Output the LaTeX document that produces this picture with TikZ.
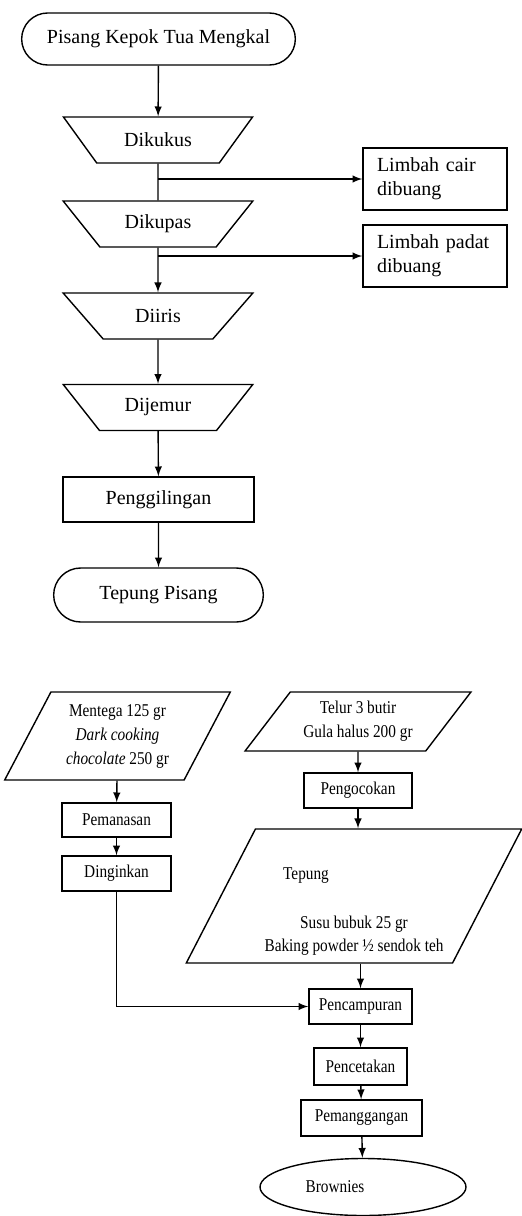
\documentclass[tikz,border=0pt]{standalone}
\usepackage{fontspec}
\setmainfont{Liberation Serif}
\newfontfamily\narrowserif[FakeStretch=0.85]{Liberation Serif}
\usepackage{tikz}
\usetikzlibrary{shapes.geometric, shapes.misc}

\begin{document}
\begin{tikzpicture}[x=0.5pt, y=-0.5pt, >=latex, line width=0.7pt,
    bigfont/.style={font=\fontsize{10}{12}\selectfont},
    smallfont/.style={font=\narrowserif\fontsize{9}{12}\selectfont},
    term/.style={draw, rounded rectangle, bigfont, minimum height=26pt},
    proc/.style={draw, trapezium, trapezium angle=51.2, trapezium stretches,
      shape border rotate=180, minimum width=95pt, minimum height=23pt, bigfont},
    waste/.style={draw, rectangle, bigfont, align=left, text width=58pt,
      inner xsep=7pt, minimum height=31pt},
    input/.style={draw, trapezium, trapezium stretches, smallfont, align=center},
    smallbox/.style={draw, rectangle, smallfont, minimum height=17.5pt}]
    \useasboundingbox (0,0) rectangle (522,1216);

    % tepung pisang
    \node [term, minimum width=143.5pt] (pisang) at (158.5,39) {Pisang Kepok Tua Mengkal};
    \node [proc] (kukus) at (158,140) {Dikukus};
    \node [proc] (kupas) at (158,224) {Dikupas};
    \node [proc] (iris) at (158,316) {Diiris};
    \node [proc] (jemur) at (158,407.5) {Dijemur};
    \node [draw, bigfont, minimum width=95.5pt, minimum height=22.5pt] (giling) at (158.5,499.5) {Penggilingan};
    \node [term, minimum width=111.5pt, minimum height=27pt] (tepung) at (158.5,595) {Tepung Pisang};
    \node [waste] (cair) at (435,179) {Limbah cair\\dibuang};
    \node [waste] (padat) at (435,256) {Limbah padat\\dibuang};

    \draw[->] (pisang) -- (kukus);
    \draw (kukus) -- (kupas);
    \draw[->] (kukus.south |- cair) -- (cair);
    \draw[->] (kupas) -- (iris);
    \draw[->] (kupas.south |- padat) -- (padat);
    \draw[->] (iris) -- (jemur);
    \draw[->] (jemur) -- (giling);
    \draw[->] (giling) -- (tepung);

    % brownies
    \node [input, trapezium left angle=62.4, trapezium right angle=117.6,
      minimum width=113.5pt, minimum height=44pt] (mentega) at (117.5,736)
      {Mentega 125 gr\\ \textit{Dark cooking}\\ \textit{chocolate} 250 gr};
    \node [input, trapezium left angle=52.7, trapezium right angle=127.3,
      minimum width=113pt, minimum height=29.5pt] (telur) at (358,721.5)
      {Telur 3 butir\\ Gula halus 200 gr};
    \node [smallbox, minimum width=54.5pt, minimum height=17pt] (panas) at (116.5,820) {Pemanasan};
    \node [smallbox, minimum width=54.5pt] (dingin) at (116.5,873.5) {Dinginkan};
    \node [smallbox, minimum width=54pt] (kocok) at (358,790.5) {Pengocokan};
    \node [input, trapezium left angle=62.8, trapezium right angle=117.2,
      minimum width=168pt, minimum height=67pt, font=\narrowserif\fontsize{9}{11.5}\selectfont]
      (bahan) at (354,896)
      {\rule{0pt}{21pt}Tepung\hspace*{48pt}\\[13pt] Susu bubuk 25 gr\\ Baking powder ½ sendok teh};
    \node [smallbox, minimum width=51.5pt] (campur) at (360.5,1006.5) {Pencampuran};
    \node [smallbox, minimum width=46.5pt, minimum height=18.5pt] (cetak) at (360.5,1066.5) {Pencetakan};
    \node [smallbox, minimum width=60.5pt, minimum height=18pt] (panggang) at (361.5,1118) {Pemanggangan};
    \node [draw, ellipse, smallfont, inner sep=0pt, minimum width=103pt, minimum height=28.5pt]
      (brownies) at (363,1187) {Brownies\hspace*{28pt}};

    \draw[->] (mentega) -- (panas);
    \draw[->] (panas) -- (dingin);
    \draw[->] (dingin) |- (campur);
    \draw[->] (telur) -- (kocok);
    \draw[->] (kocok) -- (kocok |- bahan.north);
    \draw[->] (campur |- bahan.south) -- (campur);
    \draw[->] (campur) -- (cetak);
    \draw[->] (cetak) -- (panggang);
    \draw[->] (panggang) -- (brownies);
  \end{tikzpicture}
\end{document}
